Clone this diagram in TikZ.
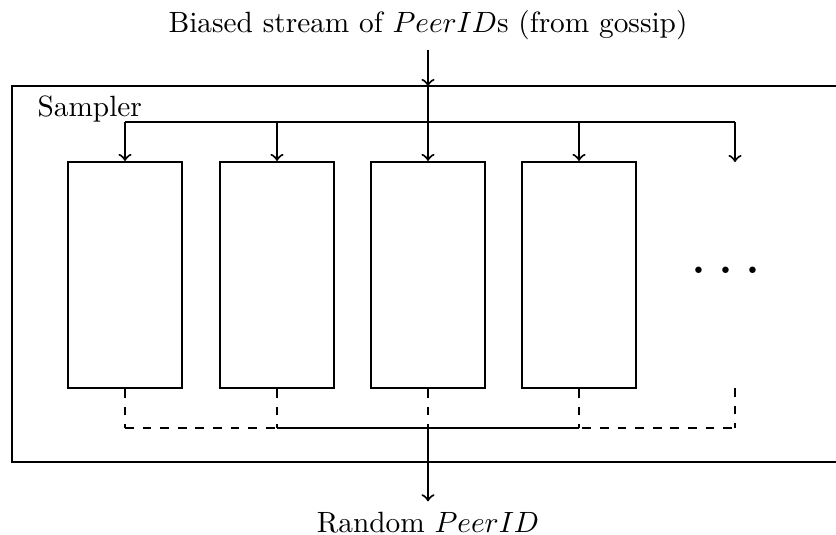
\documentclass[tikz,border=0pt]{standalone}
\usetikzlibrary{arrows}
\begin{document}
\begin{tikzpicture}[x=0.341pt,y=-0.341pt,
  wire/.style={line width=0.7pt},
  feed/.style={wire,->},
  collect/.style={wire,dashed},
  bucket/.style={draw,line width=0.7pt,inner sep=0pt,minimum width=38.9pt,minimum height=77.1pt},
  frame/.style={draw,line width=0.9pt}]
\clip (0,0) rectangle (836,534);

% sampler enclosure (continues past the right edge)
\draw[frame] (12,86) rectangle (880,462);
\node[anchor=base west,inner sep=0pt] (samplerlabel) at (37,116) {Sampler};

% incoming and outgoing labels
\node[anchor=base] (src) at (428,32) {Biased stream of $PeerID$s (from gossip)};
\node[anchor=base] (out) at (428,532) {Random $PeerID$};

% buckets
\node[bucket] (b1) at (125,275) {};
\node[bucket] (b2) at (277,275) {};
\node[bucket] (b3) at (428,275) {};
\node[bucket] (b4) at (579,275) {};
\coordinate (b5top) at (735,162);
\coordinate (b5bot) at (735,388);
\node[inner sep=0pt] (more) at (726,272) {\huge$\cdots$};

% distribution bus
\coordinate (entry) at (428,86);
\coordinate (split) at (428,122);
\coordinate (busL) at (125,122);
\coordinate (busR) at (735,122);
\draw[feed] (src.south) -- (entry);
\draw[line width=1pt] (entry) -- (split);
\draw[wire] (busL) -- (busR);
\draw[feed] (busL) -- (b1.north);
\draw[feed] (277,122) -- (b2.north);
\draw[feed] (split) -- (b3.north);
\draw[feed] (579,122) -- (b4.north);
\draw[feed] (busR) -- (b5top);

% collection bus
\coordinate (m1) at (125,428);
\coordinate (m2) at (277,428);
\coordinate (m3) at (428,428);
\coordinate (m4) at (579,428);
\coordinate (m5) at (735,428);
\draw[collect] (b1.south) -- (m1);
\draw[collect] (b2.south) -- (m2);
\draw[collect] (b3.south) -- (m3);
\draw[collect] (b4.south) -- (m4);
\draw[collect] (b5bot) -- (m5);
\draw[collect] (m1) -- (m5);
\draw[wire] (m2) -- (m4);
\draw[feed] (m3) -- (out.north);
\end{tikzpicture}
\end{document}
